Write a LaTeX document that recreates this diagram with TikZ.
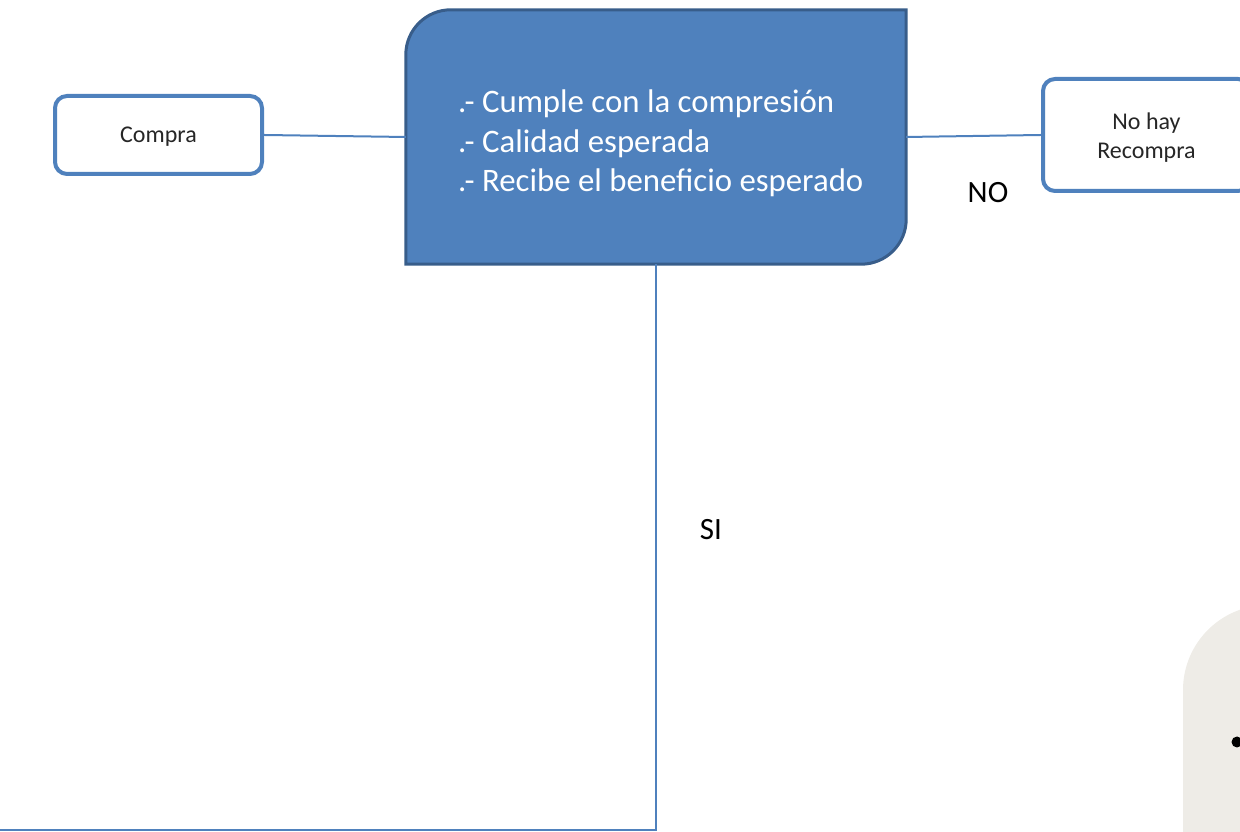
\documentclass[tikz,border=0pt]{standalone}
\usepackage{fontspec}
\setmainfont{Carlito}
\definecolor{boxblue}{HTML}{4F81BD}
\definecolor{boxedge}{HTML}{385D8A}
\definecolor{paper}{HTML}{EEECE7}
\tikzset{
  x=1pt, y=1pt,
  smallbox/.style={draw=boxblue, line width=4pt, fill=white, rounded corners=12pt,
    inner sep=0pt, font=\fontsize{24}{29}\selectfont, align=center, text=black!85},
  link/.style={draw=boxblue, line width=2pt},
  lbl/.style={font=\fontsize{31}{36}\selectfont, text=black},
  mainline/.style={text=white, font=\fontsize{32.8}{40}\selectfont, anchor=base west, inner sep=0pt},
}
\begin{document}
\begin{tikzpicture}
\useasboundingbox (0,0) rectangle (1240,832);
\clip (0,0) rectangle (1240,832);
% gray shape bottom right
\fill[paper, rounded corners=85pt] (1183,-300) rectangle (1340,227);
\fill[black] (1237,90) circle (5.5);
% nodes
\node[smallbox, minimum width=207pt, minimum height=78pt] (compra) at (158.5,697)
  {\raisebox{-2pt}[\height][\depth]{Compra}};
\node[smallbox, minimum width=207pt, minimum height=112pt] (nohay) at (1146.5,697)
  {\raisebox{-3pt}[\height][\depth]{\begin{tabular}{@{}c@{}}No hay\\Recompra\end{tabular}}};
\node[minimum width=500pt, minimum height=254pt, inner sep=0pt] (main) at (656,695) {};
\draw[boxedge, line width=3pt, fill=boxblue]
  (main.south west) -- ([yshift=-45pt]main.north west)
  arc[start angle=180, end angle=90, radius=45pt] -- (main.north east)
  -- ([yshift=45pt]main.south east)
  arc[start angle=0, end angle=-90, radius=45pt] -- cycle;
\node[mainline] (l1) at (458,719) {.- Cumple con la compresión};
\node[mainline] (l2) at (458,679) {.- Calidad esperada};
\node[mainline] (l3) at (458,640) {.- Recibe el beneficio esperado};
% connectors
\coordinate (corner) at (main.south |- 0,2);
\coordinate (leftend) at (0,2);
\draw[link] (compra.east) -- (main.west);
\draw[link] (main.east) -- (nohay.west);
\draw[link] (main.south) -- (corner) -- (leftend);
% labels
\node[lbl] (no) at (988,639) {NO};
\node[lbl] (si) at (711,302) {SI};
\end{tikzpicture}
\end{document}
